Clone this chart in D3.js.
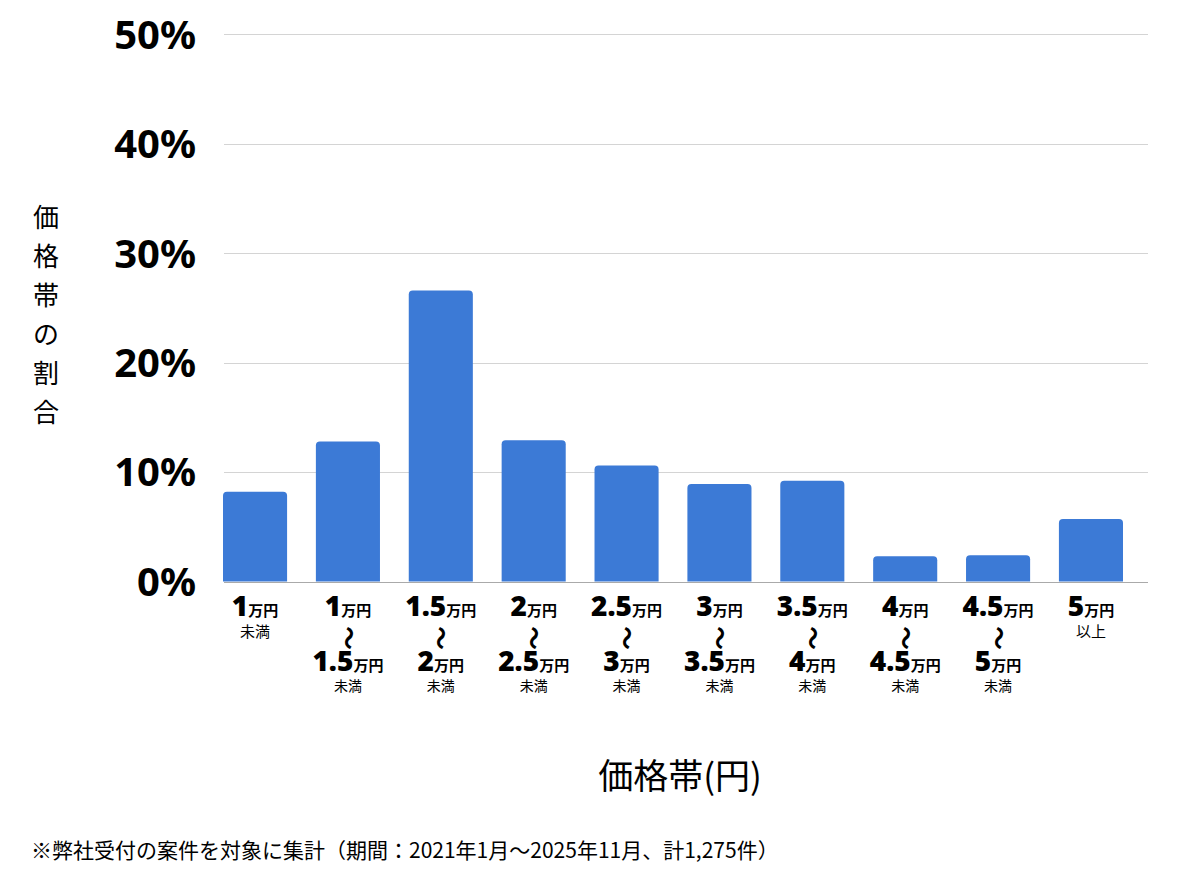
<!DOCTYPE html>
<html>
<head>
<meta charset="utf-8">
<script src="https://cdn.jsdelivr.net/npm/d3@7"></script>
<style>
  body { margin: 0; background: #fff; }
  svg { display: block; }
</style>
</head>
<body>
<div id="chart"></div>
<script>
// Price bands (万円) and their share of cases (%)
var categories = ["1万円未満", "1万円～1.5万円未満", "1.5万円～2万円未満", "2万円～2.5万円未満",
    "2.5万円～3万円未満", "3万円～3.5万円未満", "3.5万円～4万円未満", "4万円～4.5万円未満",
    "4.5万円～5万円未満", "5万円以上"];
var labelTop = ["1", "1", "1.5", "2", "2.5", "3", "3.5", "4", "4.5", "5"];
var labelBottom = [null, "1.5", "2", "2.5", "3", "3.5", "4", "4.5", "5", null];
var labelNote = ["未満", "未満", "未満", "未満", "未満", "未満", "未満", "未満", "未満", "以上"];
var shares = [8.2, 12.8, 26.6, 12.9, 10.6, 8.9, 9.2, 2.3, 2.4, 5.7];
var yTicks = [0, 10, 20, 30, 40, 50];

var data = categories.map(function (c, i) {
    return { cat: c, value: shares[i], top: labelTop[i], bottom: labelBottom[i], note: labelNote[i] };
});

var width = 1200, height = 874;
var jp = "'Noto Sans CJK JP', 'Noto Sans', sans-serif";
var num = "'Noto Sans', 'Noto Sans CJK JP', sans-serif";

var svg = d3.select("#chart")
    .append("svg")
    .attr("width", width)
    .attr("height", height);

// Scales
var x = d3.scaleBand()
    .domain(categories)
    .range([223, 1123])
    .paddingInner(0.31)
    .paddingOuter(0);

var y = d3.scaleLinear()
    .domain([0, 50])
    .range([581.5, 34.3]);

// Gridlines
svg.append("g")
    .selectAll("line")
    .data(yTicks)
    .enter()
    .append("line")
    .attr("x1", 224)
    .attr("x2", 1148)
    .attr("y1", function (d) { return Math.round(y(d)) + 0.5; })
    .attr("y2", function (d) { return Math.round(y(d)) + 0.5; })
    .attr("stroke", function (d) { return d === 0 ? "#aaaaaa" : "#d4d4d4"; })
    .attr("stroke-width", 1);

// Y tick labels
svg.append("g")
    .selectAll("text")
    .data(yTicks)
    .enter()
    .append("text")
    .attr("x", 196)
    .attr("y", function (d) { return y(d); })
    .attr("dy", "0.36em")
    .attr("text-anchor", "end")
    .style("font-family", num)
    .style("font-weight", 700)
    .style("font-size", "40px")
    .text(function (d) { return d + "%"; });

// Bars with rounded top corners
function barPath(d) {
    var x0 = x(d.cat), w = x.bandwidth(), y0 = y(d.value), yb = y(0), r = 4;
    return "M" + x0 + "," + yb +
        "V" + (y0 + r) +
        "Q" + x0 + "," + y0 + " " + (x0 + r) + "," + y0 +
        "H" + (x0 + w - r) +
        "Q" + (x0 + w) + "," + y0 + " " + (x0 + w) + "," + (y0 + r) +
        "V" + yb + "Z";
}

svg.selectAll(".bar")
    .data(data)
    .enter()
    .append("path")
    .attr("class", "bar")
    .attr("d", barPath)
    .attr("fill", "#3c7ad6");

// X category labels
var labels = svg.selectAll(".xlabel")
    .data(data)
    .enter()
    .append("g")
    .attr("class", "xlabel")
    .attr("transform", function (d) { return "translate(" + (x(d.cat) + x.bandwidth() / 2) + ",0)"; });

function amount(g, v, yy) {
    var t = g.append("text")
        .attr("y", yy)
        .attr("text-anchor", "middle");
    t.append("tspan")
        .style("font-family", num)
        .style("font-weight", 900)
        .style("font-size", "28px")
        .text(v);
    t.append("tspan")
        .style("font-family", jp)
        .style("font-weight", 700)
        .style("font-size", "15px")
        .text("万円");
}

labels.each(function (d) {
    var g = d3.select(this);
    amount(g, d.top, 616);
    if (d.bottom) {
        g.append("text")
            .attr("transform", "translate(0,638) rotate(90)")
            .attr("text-anchor", "middle")
            .attr("dy", "0.35em")
            .style("font-family", jp)
            .style("font-weight", 700)
            .style("font-size", "24px")
            .text("〜");
        amount(g, d.bottom, 671);
        g.append("text")
            .attr("y", 691)
            .attr("text-anchor", "middle")
            .style("font-family", jp)
            .style("font-size", "14px")
            .text(d.note);
    } else {
        g.append("text")
            .attr("y", 637)
            .attr("text-anchor", "middle")
            .style("font-family", jp)
            .style("font-size", "15px")
            .text(d.note);
    }
});

// Y axis title (vertical, one character per line)
var yTitle = "価格帯の割合".split("");
svg.append("g")
    .selectAll("text")
    .data(yTitle)
    .enter()
    .append("text")
    .attr("x", 46)
    .attr("y", function (d, i) { return 218 + i * 39; })
    .attr("dy", "0.36em")
    .attr("text-anchor", "middle")
    .style("font-family", jp)
    .style("font-size", "26px")
    .text(function (d) { return d; });

// X axis title
svg.append("text")
    .attr("x", 680)
    .attr("y", 789)
    .attr("text-anchor", "middle")
    .style("font-family", jp)
    .style("font-size", "35px")
    .text("価格帯(円)");

// Footnote
svg.append("text")
    .attr("x", 31)
    .attr("y", 858)
    .style("font-family", jp)
    .style("font-size", "21px")
    .text("※弊社受付の案件を対象に集計（期間：2021年1月～2025年11月、計1,275件）");
</script>
</body>
</html>
